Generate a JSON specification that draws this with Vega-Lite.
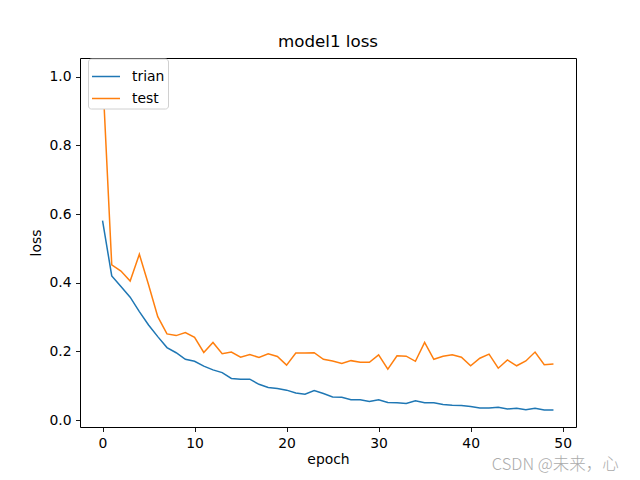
{
  "$schema": "https://vega.github.io/schema/vega-lite/v6.json",
  "autosize": "none",
  "width": 496,
  "height": 369,
  "padding": {"left": 80, "top": 58, "right": 64, "bottom": 53},
  "background": "white",
  "config": {
    "font": "DejaVu Sans",
    "view": {"stroke": "black", "strokeWidth": 1},
    "axis": {
      "domain": false,
      "grid": false,
      "tickColor": "black",
      "tickSize": 4.5,
      "tickWidth": 0.9,
      "labelFont": "DejaVu Sans",
      "labelFontSize": 13.9,
      "labelColor": "black",
      "labelPadding": 4.5,
      "titleFont": "DejaVu Sans",
      "titleFontSize": 13.9,
      "titleFontWeight": "normal",
      "titleColor": "black"
    }
  },
  "title": {
    "text": "model1 loss",
    "font": "DejaVu Sans",
    "fontSize": 16.7,
    "fontWeight": "normal",
    "color": "black",
    "offset": 7
  },
  "layer": [
    {
      "data": {
        "values": [
          {"epoch": 0, "series": "trian", "loss": 0.581},
          {"epoch": 1, "series": "trian", "loss": 0.42},
          {"epoch": 2, "series": "trian", "loss": 0.389},
          {"epoch": 3, "series": "trian", "loss": 0.358},
          {"epoch": 4, "series": "trian", "loss": 0.316},
          {"epoch": 5, "series": "trian", "loss": 0.277},
          {"epoch": 6, "series": "trian", "loss": 0.243},
          {"epoch": 7, "series": "trian", "loss": 0.211},
          {"epoch": 8, "series": "trian", "loss": 0.196},
          {"epoch": 9, "series": "trian", "loss": 0.177},
          {"epoch": 10, "series": "trian", "loss": 0.171},
          {"epoch": 11, "series": "trian", "loss": 0.157},
          {"epoch": 12, "series": "trian", "loss": 0.146},
          {"epoch": 13, "series": "trian", "loss": 0.138},
          {"epoch": 14, "series": "trian", "loss": 0.121},
          {"epoch": 15, "series": "trian", "loss": 0.119},
          {"epoch": 16, "series": "trian", "loss": 0.119},
          {"epoch": 17, "series": "trian", "loss": 0.104},
          {"epoch": 18, "series": "trian", "loss": 0.095},
          {"epoch": 19, "series": "trian", "loss": 0.092},
          {"epoch": 20, "series": "trian", "loss": 0.087},
          {"epoch": 21, "series": "trian", "loss": 0.079},
          {"epoch": 22, "series": "trian", "loss": 0.075},
          {"epoch": 23, "series": "trian", "loss": 0.086},
          {"epoch": 24, "series": "trian", "loss": 0.077},
          {"epoch": 25, "series": "trian", "loss": 0.067},
          {"epoch": 26, "series": "trian", "loss": 0.066},
          {"epoch": 27, "series": "trian", "loss": 0.059},
          {"epoch": 28, "series": "trian", "loss": 0.059},
          {"epoch": 29, "series": "trian", "loss": 0.054},
          {"epoch": 30, "series": "trian", "loss": 0.059},
          {"epoch": 31, "series": "trian", "loss": 0.051},
          {"epoch": 32, "series": "trian", "loss": 0.05},
          {"epoch": 33, "series": "trian", "loss": 0.048},
          {"epoch": 34, "series": "trian", "loss": 0.056},
          {"epoch": 35, "series": "trian", "loss": 0.05},
          {"epoch": 36, "series": "trian", "loss": 0.05},
          {"epoch": 37, "series": "trian", "loss": 0.045},
          {"epoch": 38, "series": "trian", "loss": 0.043},
          {"epoch": 39, "series": "trian", "loss": 0.042},
          {"epoch": 40, "series": "trian", "loss": 0.039},
          {"epoch": 41, "series": "trian", "loss": 0.035},
          {"epoch": 42, "series": "trian", "loss": 0.035},
          {"epoch": 43, "series": "trian", "loss": 0.037},
          {"epoch": 44, "series": "trian", "loss": 0.032},
          {"epoch": 45, "series": "trian", "loss": 0.034},
          {"epoch": 46, "series": "trian", "loss": 0.03},
          {"epoch": 47, "series": "trian", "loss": 0.034},
          {"epoch": 48, "series": "trian", "loss": 0.029},
          {"epoch": 49, "series": "trian", "loss": 0.029},
          {"epoch": 0, "series": "test", "loss": 1.01},
          {"epoch": 1, "series": "test", "loss": 0.452},
          {"epoch": 2, "series": "test", "loss": 0.434},
          {"epoch": 3, "series": "test", "loss": 0.405},
          {"epoch": 4, "series": "test", "loss": 0.483},
          {"epoch": 5, "series": "test", "loss": 0.394},
          {"epoch": 6, "series": "test", "loss": 0.301},
          {"epoch": 7, "series": "test", "loss": 0.251},
          {"epoch": 8, "series": "test", "loss": 0.246},
          {"epoch": 9, "series": "test", "loss": 0.255},
          {"epoch": 10, "series": "test", "loss": 0.241},
          {"epoch": 11, "series": "test", "loss": 0.197},
          {"epoch": 12, "series": "test", "loss": 0.226},
          {"epoch": 13, "series": "test", "loss": 0.193},
          {"epoch": 14, "series": "test", "loss": 0.198},
          {"epoch": 15, "series": "test", "loss": 0.183},
          {"epoch": 16, "series": "test", "loss": 0.191},
          {"epoch": 17, "series": "test", "loss": 0.182},
          {"epoch": 18, "series": "test", "loss": 0.193},
          {"epoch": 19, "series": "test", "loss": 0.185},
          {"epoch": 20, "series": "test", "loss": 0.16},
          {"epoch": 21, "series": "test", "loss": 0.195},
          {"epoch": 22, "series": "test", "loss": 0.195},
          {"epoch": 23, "series": "test", "loss": 0.196},
          {"epoch": 24, "series": "test", "loss": 0.177},
          {"epoch": 25, "series": "test", "loss": 0.172},
          {"epoch": 26, "series": "test", "loss": 0.165},
          {"epoch": 27, "series": "test", "loss": 0.173},
          {"epoch": 28, "series": "test", "loss": 0.168},
          {"epoch": 29, "series": "test", "loss": 0.168},
          {"epoch": 30, "series": "test", "loss": 0.19},
          {"epoch": 31, "series": "test", "loss": 0.148},
          {"epoch": 32, "series": "test", "loss": 0.187},
          {"epoch": 33, "series": "test", "loss": 0.186},
          {"epoch": 34, "series": "test", "loss": 0.171},
          {"epoch": 35, "series": "test", "loss": 0.226},
          {"epoch": 36, "series": "test", "loss": 0.177},
          {"epoch": 37, "series": "test", "loss": 0.186},
          {"epoch": 38, "series": "test", "loss": 0.19},
          {"epoch": 39, "series": "test", "loss": 0.183},
          {"epoch": 40, "series": "test", "loss": 0.158},
          {"epoch": 41, "series": "test", "loss": 0.18},
          {"epoch": 42, "series": "test", "loss": 0.192},
          {"epoch": 43, "series": "test", "loss": 0.151},
          {"epoch": 44, "series": "test", "loss": 0.175},
          {"epoch": 45, "series": "test", "loss": 0.158},
          {"epoch": 46, "series": "test", "loss": 0.172},
          {"epoch": 47, "series": "test", "loss": 0.198},
          {"epoch": 48, "series": "test", "loss": 0.161},
          {"epoch": 49, "series": "test", "loss": 0.163}
        ]
      },
      "mark": {"type": "line", "strokeWidth": 1.5},
      "encoding": {
        "x": {
          "field": "epoch",
          "type": "quantitative",
          "title": "epoch",
          "scale": {"domain": [-2.45, 51.45], "nice": false, "zero": false},
          "axis": {"values": [0, 10, 20, 30, 40, 50], "format": "d", "titlePadding": 3}
        },
        "y": {
          "field": "loss",
          "type": "quantitative",
          "title": "loss",
          "scale": {"domain": [-0.0204, 1.055], "nice": false, "zero": false},
          "axis": {"values": [0, 0.2, 0.4, 0.6, 0.8, 1.0], "format": ".1f", "titlePadding": 5}
        },
        "color": {
          "field": "series",
          "type": "nominal",
          "scale": {"domain": ["trian", "test"], "range": ["#1f77b4", "#ff7f0e"]},
          "legend": {
            "title": null,
            "orient": "none",
            "legendX": 8,
            "legendY": 0.5,
            "symbolType": "stroke",
            "symbolSize": 784,
            "symbolStrokeWidth": 1.5,
            "labelFont": "DejaVu Sans",
            "labelFontSize": 13.9,
            "labelColor": "black",
            "labelOffset": 11,
            "rowPadding": -0.8,
            "padding": 3,
            "strokeColor": "#d0d0d0",
            "fillColor": "white",
            "cornerRadius": 3
          }
        }
      }
    },
    {
      "data": {"values": [{"note": "CSDN @未来，心"}]},
      "mark": {
        "type": "text",
        "font": "Noto Sans CJK SC",
        "fontSize": 16.5,
        "fontWeight": 300,
        "color": "#ababab",
        "align": "center",
        "baseline": "middle"
      },
      "encoding": {
        "text": {"field": "note"},
        "x": {"datum": 49.2},
        "y": {"datum": -0.13}
      }
    }
  ]
}
